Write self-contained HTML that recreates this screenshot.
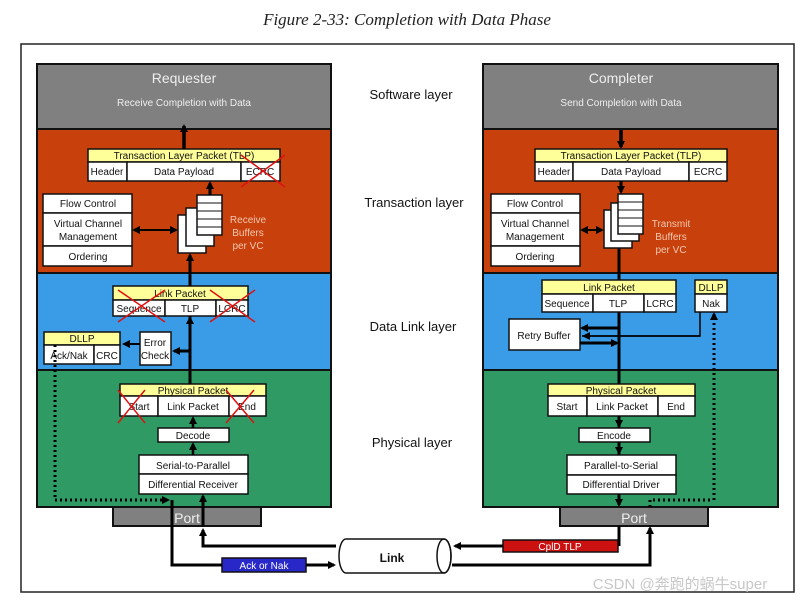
<!DOCTYPE html>
<html><head><meta charset="utf-8"><style>
html,body{margin:0;padding:0;background:#fff;}
svg{display:block;font-family:"Liberation Sans",sans-serif;}
</style></head><body>
<svg width="810" height="607" viewBox="0 0 810 607" xmlns="http://www.w3.org/2000/svg">
<defs>
<marker id="a" markerWidth="8" markerHeight="8" refX="6" refY="4" orient="auto" markerUnits="userSpaceOnUse"><path d="M0,0 L8,4 L0,8 z" fill="#000"/></marker>
</defs>
<rect width="810" height="607" fill="#fff"/>
<text x="407" y="25" font-family="Liberation Serif,serif" font-style="italic" font-size="17" text-anchor="middle" fill="#222">Figure 2-33: Completion with Data Phase</text>
<rect x="21" y="44" width="773" height="548" fill="#fff" stroke="#222" stroke-width="1.5"/>

<g stroke="#111" stroke-width="2">
<rect x="37" y="64" width="294" height="65" fill="#808080"/>
<rect x="37" y="129" width="294" height="144" fill="#c8400c"/>
<rect x="37" y="273" width="294" height="97" fill="#3a9be6"/>
<rect x="37" y="370" width="294" height="137" fill="#2f9a64"/>
<rect x="483" y="64" width="295" height="65" fill="#808080"/>
<rect x="483" y="129" width="295" height="144" fill="#c8400c"/>
<rect x="483" y="273" width="295" height="97" fill="#3a9be6"/>
<rect x="483" y="370" width="295" height="137" fill="#2f9a64"/>
<rect x="113" y="507" width="148" height="19" fill="#808080"/>
<rect x="560" y="507" width="148" height="19" fill="#808080"/>
</g>
<g fill="#eee" text-anchor="middle">
<text x="184" y="83" font-size="14">Requester</text>
<text x="184" y="106" font-size="10">Receive Completion with Data</text>
<text x="621" y="83" font-size="14">Completer</text>
<text x="621" y="106" font-size="10">Send Completion with Data</text>
<text x="187" y="523" font-size="14">Port</text>
<text x="634" y="523" font-size="14">Port</text>
</g>
<g font-size="13" fill="#111" text-anchor="middle">
<text x="411" y="99">Software layer</text>
<text x="414" y="207">Transaction layer</text>
<text x="413" y="331">Data Link layer</text>
<text x="412" y="447">Physical layer</text>
</g>

<g stroke="#000" fill="none">
<path d="M190,370 V255" stroke-width="3" marker-end="url(#a)"/>
<path d="M619,241 V505" stroke-width="3" marker-end="url(#a)"/>
</g>

<g stroke="#111" stroke-width="1.5" font-size="10" text-anchor="middle">
<rect x="88" y="149" width="192" height="13" fill="#ffff99"/>
<rect x="88" y="162" width="39" height="19" fill="#fff"/>
<rect x="127" y="162" width="114" height="19" fill="#fff"/>
<rect x="241" y="162" width="39" height="19" fill="#fff"/>
<rect x="535" y="149" width="192" height="13" fill="#ffff99"/>
<rect x="535" y="162" width="38" height="19" fill="#fff"/>
<rect x="573" y="162" width="116" height="19" fill="#fff"/>
<rect x="689" y="162" width="38" height="19" fill="#fff"/>
<rect x="43" y="194" width="89" height="19" fill="#fff"/>
<rect x="43" y="213" width="89" height="33" fill="#fff"/>
<rect x="43" y="246" width="89" height="20" fill="#fff"/>
<rect x="491" y="194" width="89" height="19" fill="#fff"/>
<rect x="491" y="213" width="89" height="33" fill="#fff"/>
<rect x="491" y="246" width="89" height="20" fill="#fff"/>
<rect x="178" y="215" width="28" height="38" fill="#fff"/>
<rect x="186" y="208" width="28" height="38" fill="#fff"/>
<rect x="197" y="195" width="25" height="40" fill="#fff"/>
<rect x="604" y="210" width="28" height="38" fill="#fff"/>
<rect x="611" y="203" width="28" height="38" fill="#fff"/>
<rect x="618" y="194" width="25" height="40" fill="#fff"/>
<rect x="113" y="286" width="135" height="14" fill="#ffff99"/>
<rect x="113" y="300" width="52" height="16" fill="#fff"/>
<rect x="165" y="300" width="51" height="16" fill="#fff"/>
<rect x="216" y="300" width="32" height="16" fill="#fff"/>
<rect x="542" y="280" width="134" height="14" fill="#ffff99"/>
<rect x="542" y="294" width="51" height="18" fill="#fff"/>
<rect x="593" y="294" width="51" height="18" fill="#fff"/>
<rect x="644" y="294" width="32" height="18" fill="#fff"/>
<rect x="695" y="280" width="32" height="14" fill="#ffff99"/>
<rect x="695" y="294" width="32" height="18" fill="#fff"/>
<rect x="44" y="332" width="76" height="13" fill="#ffff99"/>
<rect x="44" y="345" width="50" height="19" fill="#fff"/>
<rect x="94" y="345" width="26" height="19" fill="#fff"/>
<rect x="140" y="332" width="31" height="33" fill="#fff"/>
<rect x="509" y="319" width="71" height="31" fill="#fff"/>
<rect x="120" y="384" width="146" height="12" fill="#ffff99"/>
<rect x="120" y="396" width="38" height="20" fill="#fff"/>
<rect x="158" y="396" width="71" height="20" fill="#fff"/>
<rect x="229" y="396" width="37" height="20" fill="#fff"/>
<rect x="158" y="428" width="71" height="14" fill="#fff"/>
<rect x="139" y="455" width="109" height="19" fill="#fff"/>
<rect x="139" y="474" width="109" height="20" fill="#fff"/>
<rect x="548" y="384" width="147" height="12" fill="#ffff99"/>
<rect x="548" y="396" width="39" height="20" fill="#fff"/>
<rect x="587" y="396" width="71" height="20" fill="#fff"/>
<rect x="658" y="396" width="37" height="20" fill="#fff"/>
<rect x="579" y="428" width="71" height="14" fill="#fff"/>
<rect x="567" y="455" width="109" height="20" fill="#fff"/>
<rect x="567" y="475" width="109" height="19" fill="#fff"/>
<rect x="222" y="558" width="84" height="14" fill="#2828c8"/>
<rect x="503" y="540" width="115" height="12" fill="#cc1111"/>
<path d="M346,539 H444 A7,17 0 0 1 444,573 H346 A7,17 0 0 1 346,539 z" fill="#fff"/>
<ellipse cx="444" cy="556" rx="7" ry="17" fill="none"/>
</g>
<g stroke="#111" stroke-width="1">
<path d="M197,203 H222 M197,211 H222 M197,219 H222 M197,227 H222"/>
<path d="M618,202 H643 M618,210 H643 M618,218 H643 M618,226 H643"/>
</g>

<g font-size="10" fill="#111" text-anchor="middle">
<text x="184" y="159">Transaction Layer Packet (TLP)</text>
<text x="107" y="175">Header</text><text x="184" y="175">Data Payload</text><text x="260" y="175">ECRC</text>
<text x="631" y="159">Transaction Layer Packet (TLP)</text>
<text x="554" y="175">Header</text><text x="631" y="175">Data Payload</text><text x="708" y="175">ECRC</text>
<text x="88" y="207">Flow Control</text><text x="88" y="227">Virtual Channel</text><text x="88" y="240">Management</text><text x="88" y="260">Ordering</text>
<text x="535" y="207">Flow Control</text><text x="535" y="227">Virtual Channel</text><text x="535" y="240">Management</text><text x="535" y="260">Ordering</text>
<text x="180" y="297">Link Packet</text>
<text x="139" y="312">Sequence</text><text x="190" y="312">TLP</text><text x="232" y="312">LCRC</text>
<text x="609" y="291">Link Packet</text>
<text x="567" y="307">Sequence</text><text x="618" y="307">TLP</text><text x="660" y="307">LCRC</text>
<text x="711" y="291">DLLP</text><text x="711" y="307">Nak</text>
<text x="82" y="342">DLLP</text><text x="69" y="359">Ack/Nak</text><text x="107" y="359">CRC</text>
<text x="155" y="346">Error</text><text x="155" y="359">Check</text>
<text x="544" y="339">Retry Buffer</text>
<text x="193" y="394">Physical Packet</text>
<text x="139" y="410">Start</text><text x="193" y="410">Link Packet</text><text x="247" y="410">End</text>
<text x="193" y="439">Decode</text>
<text x="193" y="469">Serial-to-Parallel</text><text x="193" y="488">Differential Receiver</text>
<text x="621" y="394">Physical Packet</text>
<text x="567" y="410">Start</text><text x="622" y="410">Link Packet</text><text x="676" y="410">End</text>
<text x="614" y="439">Encode</text>
<text x="621" y="469">Parallel-to-Serial</text><text x="621" y="488">Differential Driver</text>
<text x="264" y="569" fill="#fff">Ack or Nak</text>
<text x="560" y="550" fill="#fff">CplD TLP</text>
<text x="392" y="562" font-size="12" font-weight="bold">Link</text>
</g>
<g fill="#f4c8b0" font-size="10" text-anchor="middle">
<text x="248" y="223">Receive</text><text x="248" y="236">Buffers</text><text x="248" y="249">per VC</text>
<text x="671" y="227">Transmit</text><text x="671" y="240">Buffers</text><text x="671" y="253">per VC</text>
</g>

<g stroke="#e01010" stroke-width="1.5">
<path d="M241,155 L285,187 M285,155 L241,187"/>
<path d="M118,290 L165,322 M165,290 L118,322"/>
<path d="M210,290 L255,322 M255,290 L210,322"/>
<path d="M118,390 L145,423 M145,390 L118,423"/>
<path d="M226,390 L254,423 M254,390 L226,423"/>
</g>

<g stroke="#000" fill="none">
<path d="M184,149 V126" stroke-width="3.5" marker-end="url(#a)"/>
<path d="M210,195 V183" stroke-width="3" marker-end="url(#a)"/>
<path d="M190,384 V318" stroke-width="3" marker-end="url(#a)"/>
<path d="M190,286 V257" stroke-width="3"/>
<path d="M190,351 H174" stroke-width="3" marker-end="url(#a)"/>
<path d="M140,344 H124" stroke-width="2" marker-end="url(#a)"/>
<path d="M140,230 H176" stroke-width="2" marker-end="url(#a)"/>
<path d="M165,230 H134" stroke-width="2" marker-end="url(#a)"/>
<path d="M193,428 V418" stroke-width="2.5" marker-end="url(#a)"/>
<path d="M193,455 V444" stroke-width="2.5" marker-end="url(#a)"/>
<path d="M203,526 V496" stroke-width="3" marker-end="url(#a)"/>
<path d="M336,546 H203 V530" stroke-width="3" marker-end="url(#a)"/>
<path d="M172,500 V565 H222" stroke-width="3"/>
<path d="M306,565 H334" stroke-width="3" marker-end="url(#a)"/>
<path d="M55,345 V500 H168" stroke-width="3" stroke-dasharray="2,3" marker-end="url(#a)"/>

<path d="M621,130 V147" stroke-width="3.5" marker-end="url(#a)"/>
<path d="M621,181 V192" stroke-width="3" marker-end="url(#a)"/>
<path d="M619,416 V426" stroke-width="3" marker-end="url(#a)"/>
<path d="M619,442 V453" stroke-width="3" marker-end="url(#a)"/>
<path d="M582,230 H602" stroke-width="2" marker-end="url(#a)"/>
<path d="M595,230 H582" stroke-width="2" marker-end="url(#a)"/>
<path d="M619,328 H582" stroke-width="3" marker-end="url(#a)"/>
<path d="M582,336 H700 V312" stroke-width="1.5"/>
<path d="M700,336 H584" stroke-width="1.5" marker-end="url(#a)"/>
<path d="M580,343 H617" stroke-width="3" marker-end="url(#a)"/>
<path d="M619,526 V546" stroke-width="3"/>
<path d="M503,546 H455" stroke-width="3" marker-end="url(#a)"/>
<path d="M452,565 H650 V528" stroke-width="3" marker-end="url(#a)"/>
<path d="M650,507 V500 H712" stroke-width="3" stroke-dasharray="2,3"/>
<path d="M714,500 V314" stroke-width="3" stroke-dasharray="2,3" marker-end="url(#a)"/>
</g>
<text x="680" y="589" font-size="15" fill="#c8c8c8" text-anchor="middle" font-family="Liberation Sans,'Noto Sans CJK SC',sans-serif">CSDN @奔跑的蜗牛super</text>
</svg>
</body></html>
